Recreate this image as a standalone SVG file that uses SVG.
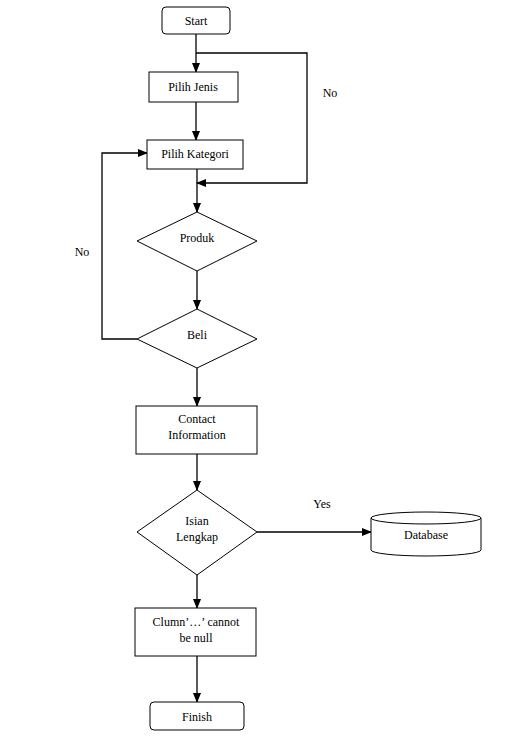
<svg xmlns="http://www.w3.org/2000/svg" width="505" height="751" viewBox="0 0 505 751">
<style>
.n{fill:#fff;stroke:#000;stroke-width:1}
.t{font-family:"Liberation Serif","Times New Roman",serif;font-size:12px;fill:#000;text-anchor:middle}
.c{fill:none;stroke:#000;stroke-width:1.3}
</style>
<defs>
<marker id="a" markerWidth="10" markerHeight="8" refX="9" refY="4" orient="auto" markerUnits="userSpaceOnUse">
<path d="M0,0 L10,4 L0,8 z" fill="#000"/>
</marker>
</defs>
<rect width="505" height="751" fill="#fff"/>
<g id="connectors">
<path class="c" d="M196,34 V72" marker-end="url(#a)"/>
<path class="c" d="M196,102 V140" marker-end="url(#a)"/>
<path class="c" d="M196,53 H307 V183 H197" marker-end="url(#a)"/>
<path class="c" d="M197,169 V212" marker-end="url(#a)"/>
<path class="c" d="M197,271 V309" marker-end="url(#a)"/>
<path class="c" d="M137,339 H102 V153 H147" marker-end="url(#a)"/>
<path class="c" d="M197,368 V406" marker-end="url(#a)"/>
<path class="c" d="M197,454 V490" marker-end="url(#a)"/>
<path class="c" d="M257,532 H371" marker-end="url(#a)"/>
<path class="c" d="M197,575 V608" marker-end="url(#a)"/>
<path class="c" d="M197,656 V702" marker-end="url(#a)"/>
<text class="t" x="330" y="97">No</text>
<text class="t" x="82" y="256">No</text>
<text class="t" x="322" y="508">Yes</text>
</g>
<g id="start"><rect class="n" x="162" y="7" width="68" height="27" rx="4"/><text class="t" x="196" y="25">Start</text></g>
<g id="pilih-jenis"><rect class="n" x="149" y="72" width="89" height="30"/><text class="t" x="193" y="91">Pilih Jenis</text></g>
<g id="pilih-kategori"><rect class="n" x="147" y="140" width="96" height="29"/><text class="t" x="195" y="158">Pilih Kategori</text></g>
<g id="produk"><path class="n" d="M197,212 L257,241 L197,271 L137,241 Z"/><text class="t" x="197" y="242">Produk</text></g>
<g id="beli"><path class="n" d="M197,309 L257,339 L197,368 L137,339 Z"/><text class="t" x="197" y="339">Beli</text></g>
<g id="contact"><rect class="n" x="136" y="406" width="121" height="48"/><text class="t" x="197" y="423">Contact</text><text class="t" x="197" y="439">Information</text></g>
<g id="isian"><path class="n" d="M197,490 L257,532 L197,575 L137,532 Z"/><text class="t" x="197" y="525">Isian</text><text class="t" x="197" y="541">Lengkap</text></g>
<g id="database"><path class="n" d="M371,518 V550 A55,6 0 0 0 481,550 V518 A55,6 0 0 0 371,518 A55,6 0 0 0 481,518"/><text class="t" x="426" y="539">Database</text></g>
<g id="clumn"><rect class="n" x="135" y="608" width="121" height="48"/><text class="t" x="196" y="626">Clumn’…’ cannot</text><text class="t" x="196" y="642">be null</text></g>
<g id="finish"><rect class="n" x="150" y="702" width="94" height="28" rx="4"/><text class="t" x="197" y="721">Finish</text></g>
</svg>
